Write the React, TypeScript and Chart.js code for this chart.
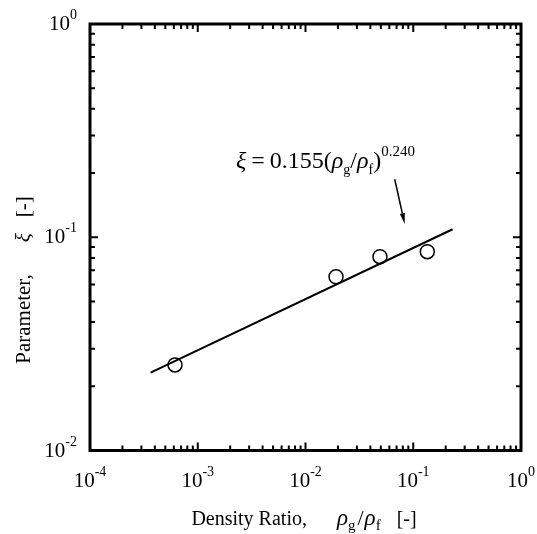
import React, { useEffect, useRef } from "react";
import { Chart, registerables } from "chart.js";

Chart.register(...registerables);

// ---- data ----
const densityRatio = [6.15e-4, 0.0192, 0.0491, 0.135];
const parameterXi = [0.0252, 0.0653, 0.0811, 0.0856];
const fitX = [3.65e-4, 0.232];
const fitY = [0.0232, 0.109];
const xTickExponents = [-4, -3, -2, -1, 0];
const yTickExponents = [-2, -1, 0];
const arrowFrom = { x: 0.0673, y: 0.187 };
const arrowTo = { x: 0.0834, y: 0.1153 };

const FONT = "'Liberation Serif', 'Times New Roman', serif";

type Part = { t?: string; size?: number; dy?: number; italic?: boolean; gap?: number };

function drawRich(ctx: CanvasRenderingContext2D, parts: Part[], x: number, y: number, align: "left" | "center" | "right") {
  const font = (p: Part) => `${p.italic ? "italic " : ""}${p.size || 20}px ${FONT}`;
  const w = (p: Part) => {
    if (p.gap !== undefined) return p.gap;
    ctx.font = font(p);
    return ctx.measureText(p.t || "").width;
  };
  let total = 0;
  for (const p of parts) total += w(p);
  let cx = align === "left" ? x : align === "center" ? x - total / 2 : x - total;
  ctx.textAlign = "left";
  ctx.textBaseline = "alphabetic";
  for (const p of parts) {
    if (p.gap === undefined) {
      ctx.font = font(p);
      ctx.fillText(p.t || "", cx, y + (p.dy || 0));
    }
    cx += w(p);
  }
}

function tickValues(exps: number[]) {
  const out: { v: number; major: boolean }[] = [];
  for (let i = 0; i < exps.length; i++) {
    const base = Math.pow(10, exps[i]);
    out.push({ v: base, major: true });
    if (i < exps.length - 1) {
      for (let m = 2; m <= 9; m++) out.push({ v: m * base, major: false });
    }
  }
  return out;
}

const framePlugin = {
  id: "frame",
  afterDatasetsDraw(chart: any) {
    const ctx: CanvasRenderingContext2D = chart.ctx;
    const { left, right, top, bottom } = chart.chartArea;
    const xs = chart.scales.x;
    const ys = chart.scales.y;
    ctx.save();
    ctx.strokeStyle = "#000";
    ctx.fillStyle = "#000";
    ctx.lineWidth = 2;
    ctx.lineCap = "butt";
    for (const t of tickValues(xTickExponents)) {
      const px = xs.getPixelForValue(t.v);
      const len = t.major ? 8 : 5;
      ctx.beginPath();
      ctx.moveTo(px, bottom);
      ctx.lineTo(px, bottom - len);
      ctx.moveTo(px, top);
      ctx.lineTo(px, top + len);
      ctx.stroke();
    }
    for (const t of tickValues(yTickExponents)) {
      const py = ys.getPixelForValue(t.v);
      const len = t.major ? 8 : 5;
      ctx.beginPath();
      ctx.moveTo(left, py);
      ctx.lineTo(left + len, py);
      ctx.moveTo(right, py);
      ctx.lineTo(right - len, py);
      ctx.stroke();
    }
    ctx.lineWidth = 3;
    ctx.strokeRect(left, top, right - left, bottom - top);

    for (const e of xTickExponents) {
      const px = xs.getPixelForValue(Math.pow(10, e));
      drawRich(ctx, [
        { t: "10", size: 21 },
        { t: String(e), size: 14, dy: -11 },
      ], px, 487, "center");
    }
    for (const e of yTickExponents) {
      const py = ys.getPixelForValue(Math.pow(10, e));
      drawRich(ctx, [
        { t: "10", size: 21 },
        { t: String(e), size: 14, dy: -11 },
      ], 77, py + 6, "right");
    }

    // x axis title
    drawRich(ctx, [
      { t: "Density Ratio,", size: 20 },
      { gap: 30 },
      { t: "ρ", size: 23, italic: true },
      { t: "g", size: 15, dy: 5 },
      { gap: 2 },
      { t: "/", size: 22 },
      { gap: 1 },
      { t: "ρ", size: 23, italic: true },
      { t: "f", size: 15, dy: 5 },
      { gap: 16 },
      { t: "[-]", size: 20 },
    ], 304, 525, "center");

    // y axis title
    ctx.save();
    ctx.translate(30, 280);
    ctx.rotate(-Math.PI / 2);
    drawRich(ctx, [
      { t: "Parameter,", size: 21 },
      { gap: 32 },
      { t: "ξ", size: 21, italic: true },
      { gap: 16 },
      { t: "[-]", size: 21 },
    ], 0, 0, "center");
    ctx.restore();

    // annotation
    drawRich(ctx, [
      { t: "ξ", size: 24, italic: true },
      { gap: 5 },
      { t: "=", size: 24 },
      { gap: 5 },
      { t: "0.155(", size: 24 },
      { t: "ρ", size: 24, italic: true },
      { t: "g", size: 14, dy: 6 },
      { t: "/", size: 24 },
      { t: "ρ", size: 24, italic: true },
      { t: "f", size: 14, dy: 6 },
      { t: ")", size: 24 },
      { t: "0.240", size: 15, dy: -12 },
    ], 236, 168, "left");

    // arrow
    const x1 = xs.getPixelForValue(arrowFrom.x);
    const y1 = ys.getPixelForValue(arrowFrom.y);
    const x2 = xs.getPixelForValue(arrowTo.x);
    const y2 = ys.getPixelForValue(arrowTo.y);
    const ang = Math.atan2(y2 - y1, x2 - x1);
    const hl = 11;
    const hw = 2.5;
    ctx.lineWidth = 1.5;
    ctx.beginPath();
    ctx.moveTo(x1, y1);
    ctx.lineTo(x2 - hl * Math.cos(ang), y2 - hl * Math.sin(ang));
    ctx.stroke();
    ctx.beginPath();
    ctx.moveTo(x2, y2);
    ctx.lineTo(x2 - hl * Math.cos(ang) + hw * Math.sin(ang), y2 - hl * Math.sin(ang) - hw * Math.cos(ang));
    ctx.lineTo(x2 - hl * Math.cos(ang) - hw * Math.sin(ang), y2 - hl * Math.sin(ang) + hw * Math.cos(ang));
    ctx.closePath();
    ctx.fill();
    ctx.restore();
  },
};

const bgPlugin = {
  id: "bg",
  beforeDraw(chart: any) {
    const ctx = chart.ctx;
    ctx.save();
    ctx.fillStyle = "#fff";
    ctx.fillRect(0, 0, chart.width, chart.height);
    ctx.restore();
  },
};

export default function App() {
  const ref = useRef<HTMLCanvasElement | null>(null);
  useEffect(() => {
    if (!ref.current) return;
    const chart = new Chart(ref.current, {
      type: "scatter",
      data: {
        datasets: [
          {
            data: fitX.map((x, i) => ({ x, y: fitY[i] })),
            showLine: true,
            borderColor: "#000",
            borderWidth: 2,
            pointRadius: 0,
            fill: false,
          },
          {
            data: densityRatio.map((x, i) => ({ x, y: parameterXi[i] })),
            pointStyle: "circle",
            pointRadius: 7,
            borderColor: "#000",
            borderWidth: 1.5,
            backgroundColor: "rgba(0,0,0,0)",
          },
        ],
      },
      options: {
        animation: false,
        responsive: false,
        devicePixelRatio: 1,
        layout: { padding: { left: 90, right: 16, top: 24, bottom: 83.5 } },
        plugins: { legend: { display: false }, tooltip: { enabled: false } },
        scales: {
          x: { type: "logarithmic", min: 1e-4, max: 1, display: false },
          y: { type: "logarithmic", min: 1e-2, max: 1, display: false },
        },
      } as any,
      plugins: [bgPlugin, framePlugin],
    });
    return () => chart.destroy();
  }, []);
  return (
    <div style={{ position: "fixed", left: 0, top: 0, width: 537, height: 534 }}>
      <canvas ref={ref} width={537} height={534} style={{ display: "block" }} />
    </div>
  );
}
